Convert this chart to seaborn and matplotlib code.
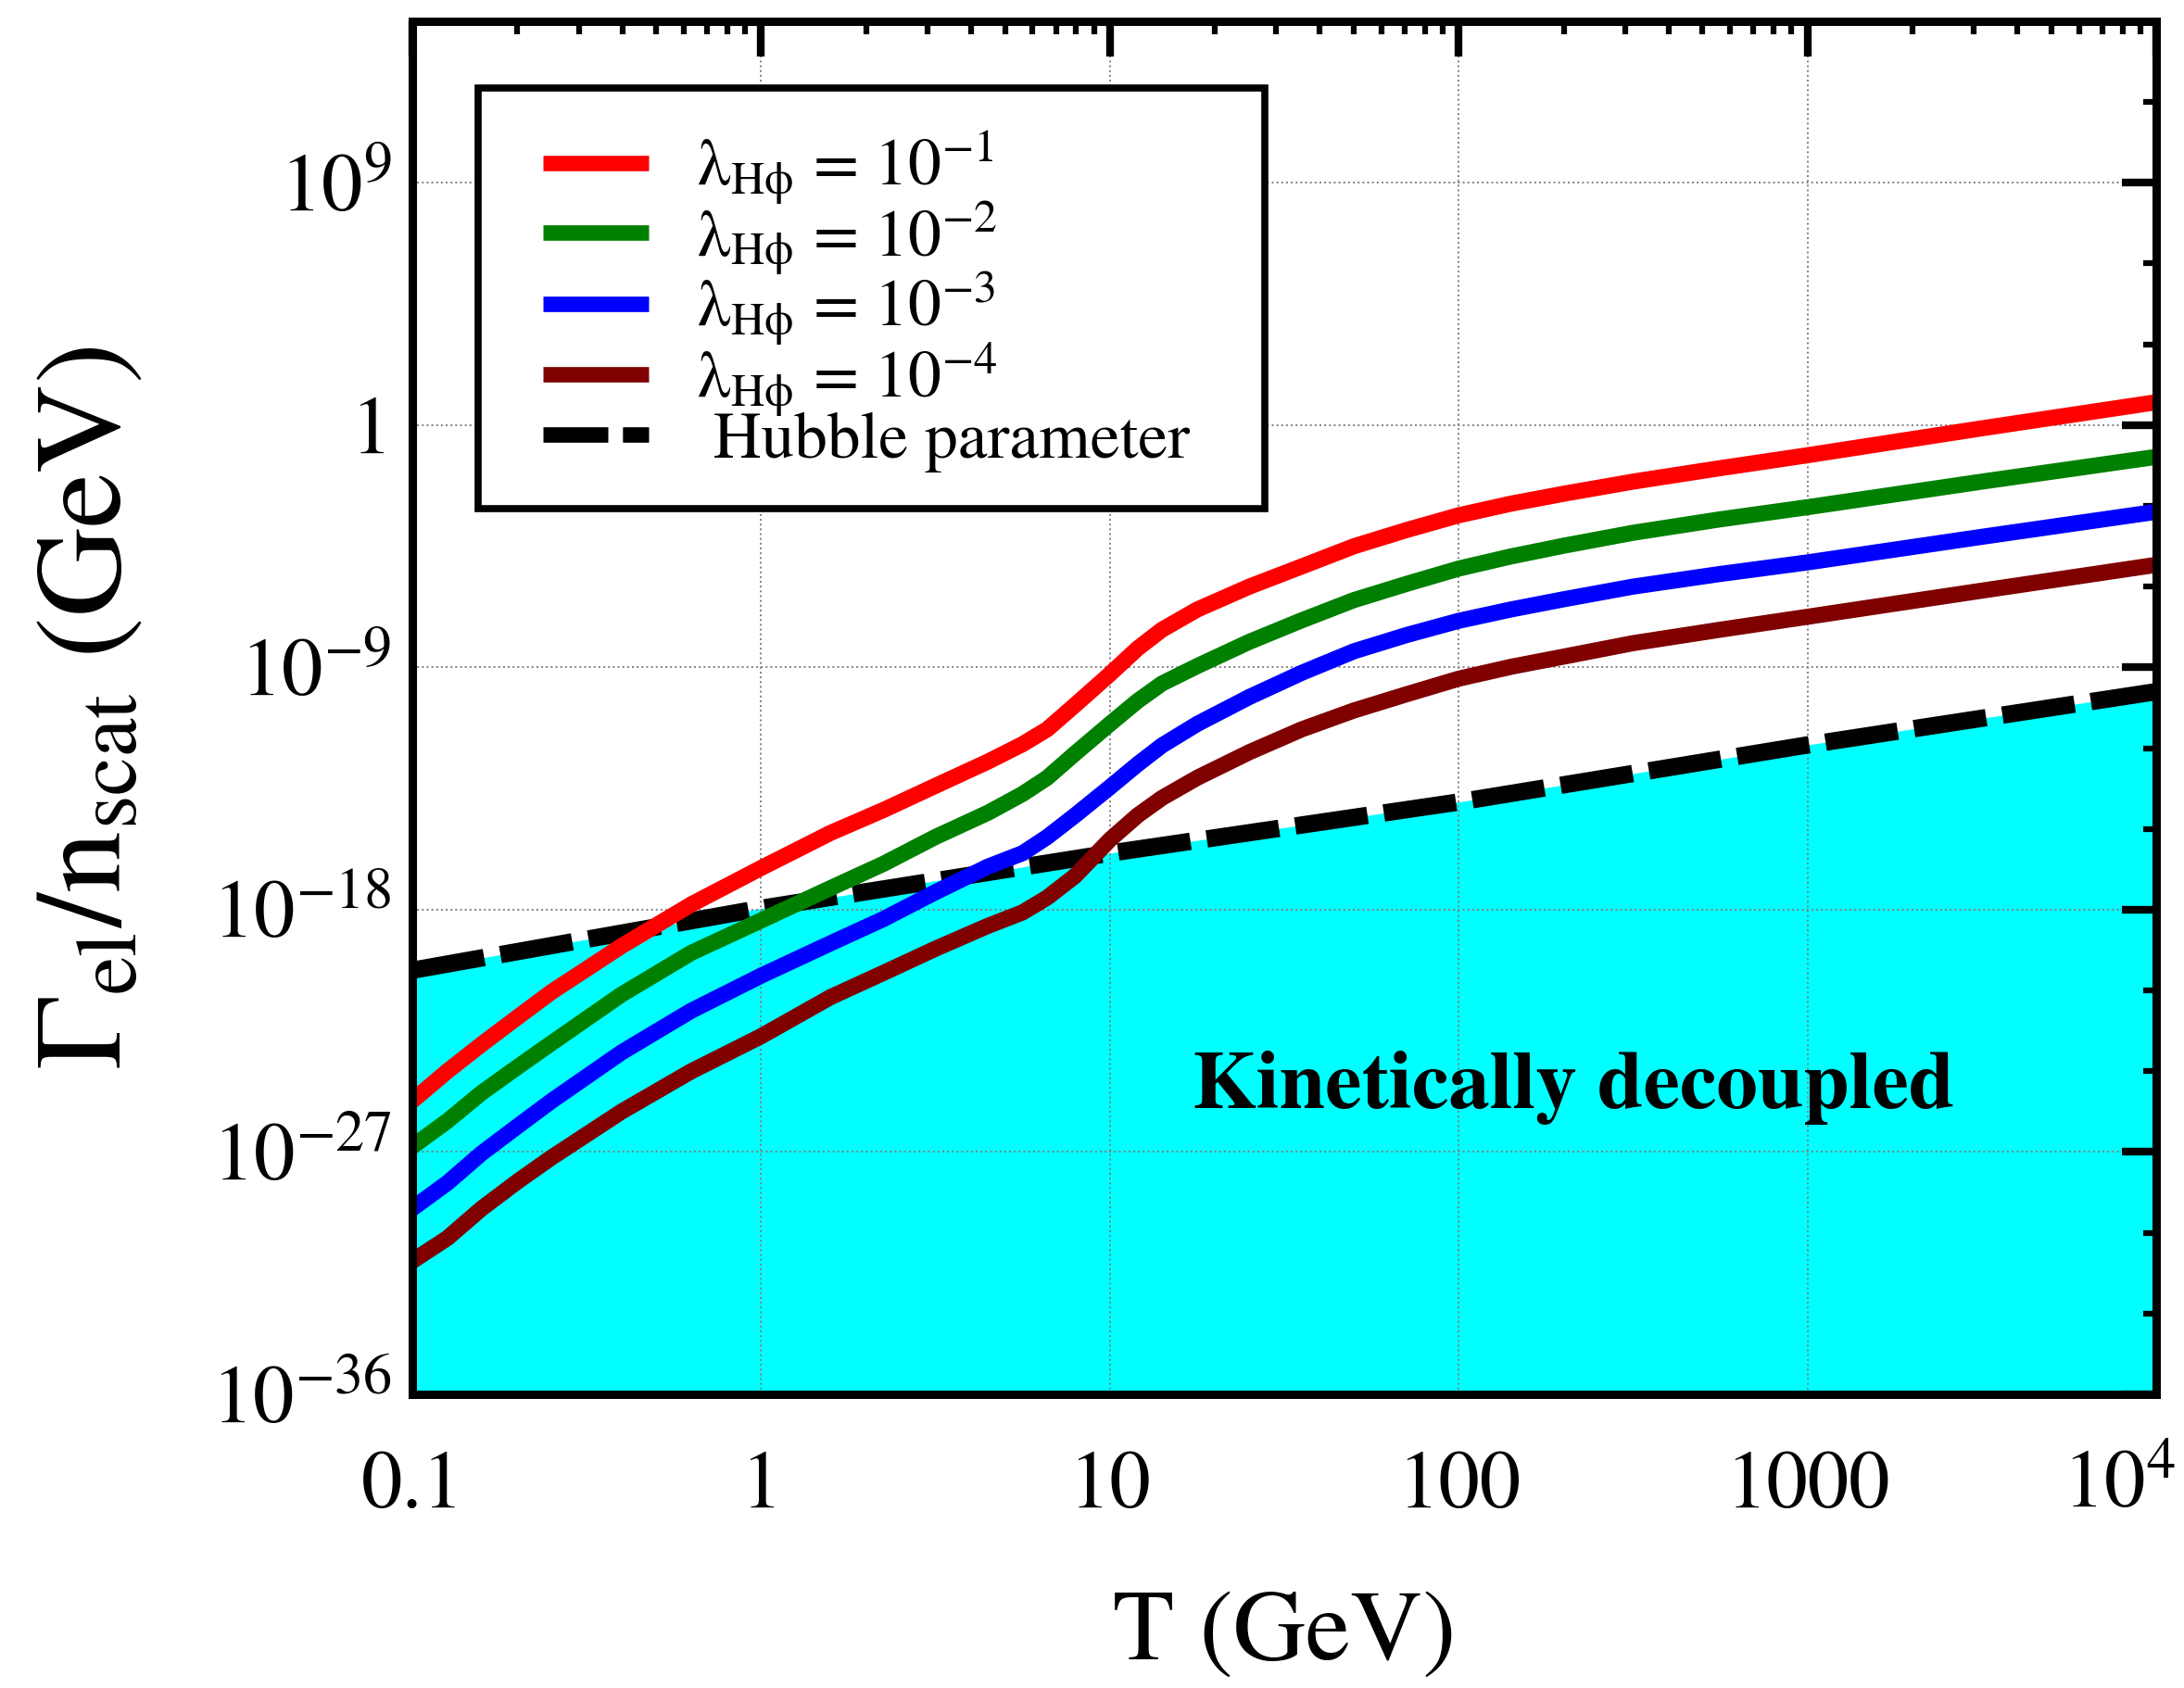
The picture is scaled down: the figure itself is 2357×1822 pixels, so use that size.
import numpy as np
import pandas as pd
import matplotlib
matplotlib.use("Agg")
import matplotlib.pyplot as plt
import seaborn as sns
from matplotlib.ticker import LogLocator, FixedLocator, NullFormatter
from matplotlib.patches import Rectangle
from matplotlib.transforms import ScaledTranslation

# ---------------- data ----------------
T = [0.1, 0.126, 0.158, 0.2, 0.251, 0.398, 0.631, 1.0, 1.58, 2.24, 3.16, 4.47, 5.62, 6.61,
     7.94, 10.0, 12.0, 14.1, 17.8, 25.1, 35.5, 50.1, 70.8, 100.0, 141.0, 200.0, 316.0,
     562.0, 1000.0, 3160.0, 10000.0]

# log10 of Gamma_el / n_scat (GeV)
exp_l1 = [-25.1, -24.0, -23.0, -22.0, -21.05, -19.35, -17.8, -16.45, -15.15, -14.3, -13.4,
          -12.5, -11.85, -11.3, -10.4, -9.25, -8.3, -7.6, -6.85, -6.0, -5.25, -4.5, -3.9,
          -3.35, -2.92, -2.55, -2.1, -1.6, -1.12, -0.12, 0.85]
exp_l2 = [-26.8, -25.85, -24.8, -23.85, -22.95, -21.15, -19.6, -18.4, -17.2, -16.3, -15.3,
          -14.4, -13.7, -13.1, -12.2, -11.1, -10.25, -9.6, -8.95, -8.05, -7.25, -6.5, -5.9,
          -5.33, -4.88, -4.48, -4.0, -3.5, -3.05, -2.1, -1.18]
exp_l3 = [-29.1, -28.15, -27.05, -26.05, -25.1, -23.3, -21.75, -20.45, -19.25, -18.35, -17.35,
          -16.4, -15.9, -15.3, -14.5, -13.45, -12.6, -11.9, -11.1, -10.1, -9.2, -8.4, -7.8,
          -7.27, -6.85, -6.47, -6.0, -5.53, -5.1, -4.15, -3.22]
exp_l4 = [-31.05, -30.2, -29.1, -28.1, -27.2, -25.5, -24.0, -22.7, -21.25, -20.35, -19.45,
          -18.6, -18.1, -17.55, -16.75, -15.4, -14.5, -13.85, -13.1, -12.15, -11.3, -10.6,
          -10.0, -9.42, -8.98, -8.6, -8.1, -7.6, -7.12, -6.15, -5.19]

T_hubble = [0.1, 1.0, 10.0, 100.0, 1000.0, 10000.0]
exp_hubble = [-20.25, -17.95, -15.9, -14.0, -11.88, -9.9]

labels = [r"$\mathrm{\lambda_{H\phi}}$ = 10$^{-1}$",
          r"$\mathrm{\lambda_{H\phi}}$ = 10$^{-2}$",
          r"$\mathrm{\lambda_{H\phi}}$ = 10$^{-3}$",
          r"$\mathrm{\lambda_{H\phi}}$ = 10$^{-4}$"]
hubble_label = " Hubble parameter"
colors = ["#ff0000", "#008000", "#0000ff", "#800000"]

xtick_vals = [0.1, 1, 10, 100, 1000, 10000]
xtick_labels = ["0.1", "1", "10", "100", "1000", r"10$^{4}$"]
ytick_vals = [1e-36, 1e-27, 1e-18, 1e-9, 1, 1e9]
ytick_labels = [r"$10^{-36}$", r"$10^{-27}$", r"$10^{-18}$", r"$10^{-9}$", "1", r"$10^{9}$"]

# ---------------- style ----------------
sns.set_theme(style="white")
plt.rcParams["font.family"] = ["STIXGeneral", "DejaVu Serif"]
plt.rcParams["mathtext.fontset"] = "stix"
for k in ["text.color", "axes.labelcolor", "xtick.color", "ytick.color", "axes.edgecolor"]:
    plt.rcParams[k] = "black"

fig = plt.figure(figsize=(23.57, 18.22), dpi=100)
ax = fig.add_axes([0.1888, 0.174, 0.7985, 0.8134])

rows = []
for lab, vals in zip(labels, [exp_l1, exp_l2, exp_l3, exp_l4]):
    for t, e in zip(T, vals):
        rows.append({"T": t, "rate": 10.0 ** e, "curve": lab})
df = pd.DataFrame(rows)
dfh = pd.DataFrame({"T": T_hubble, "H": [10.0 ** e for e in exp_hubble]})

# Hubble region
ax.fill_between(dfh["T"], 1e-40, dfh["H"], color="#00ffff", lw=0, zorder=0.5)
sns.lineplot(data=dfh, x="T", y="H", ax=ax, color="black",
             label=hubble_label, estimator=None, sort=False)
hline = ax.lines[-1]
hline.set_linewidth(13.5)
hline.set_linestyle((0, (4.2, 0.95)))
hline.set_dash_capstyle("butt")

sns.lineplot(data=df, x="T", y="rate", hue="curve", palette=colors, ax=ax,
             estimator=None, sort=False)
for ln in ax.lines[1:]:
    ln.set_linewidth(12.5)
    ln.set_solid_joinstyle("round")
    ln.set_solid_capstyle("butt")

ax.set_xscale("log")
ax.set_yscale("log")
ax.set_xlim(0.1, 1e4)
ax.set_ylim(1e-36, 1e15)

ax.set_xticks(xtick_vals, labels=xtick_labels)
ax.set_yticks(ytick_vals, labels=ytick_labels)
ax.xaxis.set_minor_locator(LogLocator(base=10, subs=np.arange(2, 10)))
ax.xaxis.set_minor_formatter(NullFormatter())
ax.yaxis.set_minor_locator(FixedLocator([10.0 ** k for k in range(-36, 16, 3)]))
ax.yaxis.set_minor_formatter(NullFormatter())

ax.tick_params(which="both", direction="in", top=True, right=True, colors="black")
ax.tick_params(which="major", length=27, width=6, labelsize=64)
ax.tick_params(which="minor", length=10, width=4.5)
ax.tick_params(axis="x", which="major", pad=44)
ax.tick_params(axis="y", which="major", pad=16)

for sp in ax.spines.values():
    sp.set_linewidth(6.5)
    sp.set_color("black")

ax.grid(True, which="major", color="gray", ls=":", lw=1.4)
for gl in ax.get_xgridlines() + ax.get_ygridlines():
    gl.set_zorder(1.5)

ax.set_xlabel("T (GeV)", fontsize=78, color="black")
ax.set_ylabel(r"$\Gamma_{\mathrm{el}}/\mathrm{n}_{\mathrm{scat}}$ (GeV)", fontsize=96, color="black")
ax.xaxis.set_label_coords(0.5, -0.143)
ax.yaxis.set_label_coords(-0.152, 0.5)

ax.text(214, 10 ** -24.6, "Kinetically decoupled", fontsize=64, fontweight="bold",
        color="black", ha="center", va="center", zorder=5)

# legend frame + legend
ax.add_patch(Rectangle((0.0375, 0.6451), 0.4512, 0.3063, transform=ax.transAxes,
                       facecolor="white", edgecolor="black", lw=5.5, zorder=4))
handles, labs = ax.get_legend_handles_labels()
order = [labs.index(l) for l in labels] + [labs.index(hubble_label)]
leg = ax.legend([handles[i] for i in order], [labs[i] for i in order],
                loc="upper left", bbox_to_anchor=(0.0749, 0.9217), borderaxespad=0,
                fontsize=51.5, frameon=False, handlelength=1.6, handletextpad=0.72,
                labelspacing=-0.11, borderpad=0)
leg.set_zorder(6)
for lh in leg.get_lines():
    lh.set_linewidth(12)
for t in leg.get_texts():
    t.set_color("black")

# right-most x tick label sits left of the corner as in the original
fig.canvas.draw()
lbl = ax.xaxis.get_major_ticks()[-1].label1
lbl.set_horizontalalignment("right")
lbl.set_transform(lbl.get_transform() + ScaledTranslation(0.21, 0, fig.dpi_scale_trans))

fig.savefig("out.png", dpi=100)
